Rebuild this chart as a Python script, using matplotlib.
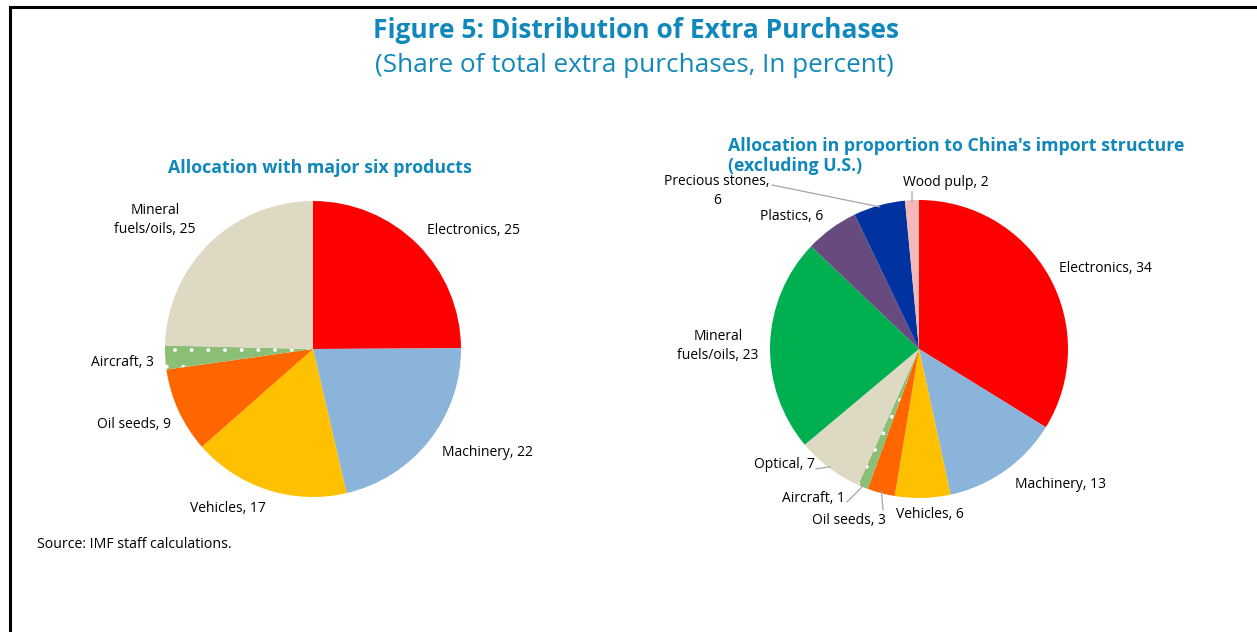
import numpy as np
import matplotlib
matplotlib.use("Agg")
import matplotlib.pyplot as plt
from matplotlib.patches import Rectangle

# ---------------- data ----------------
left_labels = ["Electronics", "Machinery", "Vehicles", "Oil seeds", "Aircraft", "Mineral\nfuels/oils"]
left_values = [25.0, 21.5, 17.2, 9.3, 2.6, 24.7]
left_colors = ["#FF0000", "#8AB4DA", "#FFC000", "#FF6600", "#8CBF76", "#DDD9C3"]

right_labels = ["Electronics", "Machinery", "Vehicles", "Oil seeds", "Aircraft", "Optical",
                "Mineral\nfuels/oils", "Plastics", "Precious stones,\n", "Wood pulp"]
right_values = [33.8, 12.8, 6.0, 3.0, 1.1, 7.2, 23.2, 5.8, 5.6, 1.5]
right_colors = ["#FF0000", "#8AB4DA", "#FFC000", "#FF6600", "#8CBF76", "#DDD9C3",
                "#00B050", "#674A7E", "#0033A0", "#F5B8B8"]

TITLE = "Figure 5: Distribution of Extra Purchases"
SUBTITLE = "(Share of total extra purchases, In percent)"
LEFT_TITLE = "Allocation with major six products"
RIGHT_TITLE = "Allocation in proportion to China's import structure\n(excluding U.S.)"
SOURCE = "Source: IMF staff calculations."

# ---------------- style ----------------
FONT = ["Open Sans", "DejaVu Sans"]
plt.rcParams["font.family"] = FONT
plt.rcParams["hatch.color"] = "white"
plt.rcParams["hatch.linewidth"] = 0.35
BLUE = "#1188BB"
W, H = 1257, 632
fig = plt.figure(figsize=(W / 100, H / 100), dpi=100)

# border (left and top visible)
fig.add_artist(Rectangle((10 / W, -0.1), 1.2, (1 - 6.5 / H) + 0.1, transform=fig.transFigure,
                         fill=False, edgecolor="black", linewidth=2.2))


def fx(px):
    return px / W


def fy(py):
    return 1 - py / H


fig.text(fx(636), fy(30), TITLE, ha="center", va="center", fontsize=19,
         fontweight="bold", color=BLUE)
fig.text(fx(634), fy(66), SUBTITLE, ha="center", va="center", fontsize=18.8, color=BLUE)
fig.text(fx(320), fy(168), LEFT_TITLE, ha="center", va="center", fontsize=12.8,
         fontweight="bold", color=BLUE)
fig.text(fx(728), fy(156), RIGHT_TITLE, ha="left", va="center", fontsize=12.8,
         fontweight="bold", color=BLUE, linespacing=1.1)
fig.text(fx(37), fy(545), SOURCE, ha="left", va="center", fontsize=10.2, color="black")


def make_pie(cx, cy, R, values, colors, hatch_idx):
    ax = fig.add_axes([fx(cx - R), fy(cy + R), 2 * R / W, 2 * R / H])
    wedges, _ = ax.pie(values, colors=colors, startangle=90, counterclock=False,
                       radius=1.0, wedgeprops=dict(linewidth=0))
    wedges[hatch_idx].set_hatch(".")
    ax.set_xlim(-1, 1)
    ax.set_ylim(-1, 1)
    ax.set_aspect("equal")
    ax.axis("off")
    return ax, wedges


def to_data(cx, cy, R, px, py):
    return (px - cx) / R, (cy - py) / R


def mid_point(w, r=1.0):
    ang = np.deg2rad((w.theta1 + w.theta2) / 2)
    return r * np.cos(ang), r * np.sin(ang)


LFS = 10
LS = 1.45
# ---------------- left pie ----------------
LCX, LCY, LR = 313, 349, 148
axL, wL = make_pie(LCX, LCY, LR, left_values, left_colors, 4)
left_pos = [  # (px, py, ha)
    (427, 230, "left"),
    (442, 452, "left"),
    (228, 508, "center"),
    (171, 424, "right"),
    (154, 363, "right"),
    (155, 220, "center"),
]
for lab, v, (px, py, ha) in zip(left_labels, left_values, left_pos):
    x, y = to_data(LCX, LCY, LR, px, py)
    axL.text(x, y, f"{lab}, {v:.0f}", ha=ha, va="center", fontsize=LFS,
             multialignment="center", clip_on=False, linespacing=LS)

# ---------------- right pie ----------------
RCX, RCY, RR = 919, 349, 149
axR, wR = make_pie(RCX, RCY, RR, right_values, right_colors, 4)
right_pos = [
    (1059, 269, "left", None),
    (1015, 485, "left", None),
    (896, 514, "left", None),
    (849, 520, "center", (883, 510)),
    (845, 498, "right", (847, 502)),
    (815, 465, "right", (816, 469)),
    (718, 346, "center", None),
    (823, 216, "right", None),
    (717, 191, "center", (772, 185)),
    (946, 182, "center", (912, 192)),
]
for lab, v, w, (px, py, ha, lead) in zip(right_labels, right_values, wR, right_pos):
    x, y = to_data(RCX, RCY, RR, px, py)
    if lab.endswith("\n"):
        txt = f"{lab}{v:.0f}"
    else:
        txt = f"{lab}, {v:.0f}"
    axR.text(x, y, txt, ha=ha, va="center", fontsize=LFS, multialignment="center",
             clip_on=False, linespacing=LS)
    if lead is not None:
        sx, sy = mid_point(w, 0.99)
        ex, ey = to_data(RCX, RCY, RR, *lead)
        axR.plot([sx, ex], [sy, ey], color="#A6A6A6", linewidth=0.9, clip_on=False)

fig.savefig("out.png", dpi=100)
